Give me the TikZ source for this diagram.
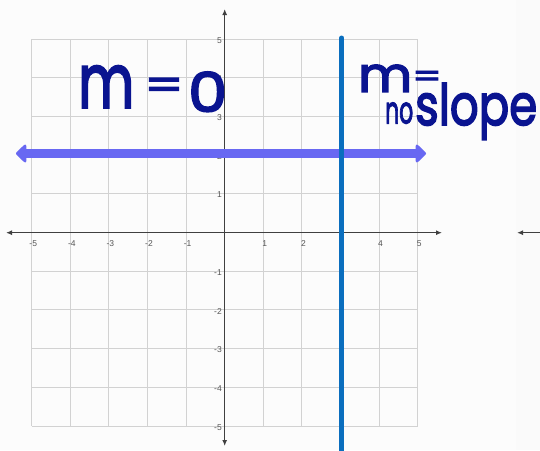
\documentclass[tikz,border=0pt]{standalone}
\usepackage{fontspec}
\usepackage{graphicx}
\setmainfont{Liberation Sans}
\newfontfamily\hand{Poppins}[FakeBold=3]
\usetikzlibrary{arrows.meta}
\definecolor{bgc}{HTML}{FCFCFC}
\definecolor{gridc}{HTML}{D2D2D2}
\definecolor{axisc}{HTML}{404040}
\definecolor{hlinec}{HTML}{6868F2}
\definecolor{vlinec}{HTML}{0A6EBE}
\definecolor{inkc}{HTML}{0A1490}
\definecolor{tickc}{HTML}{555555}
\tikzset{
  gridline/.style={draw=gridc, line width=1pt},
  axisline/.style={draw=axisc, line width=1.3pt},
  ticklab/.style={text=tickc, font=\fontsize{8.5}{8.5}\selectfont, inner sep=0pt},
  handtext/.style={text=inkc, inner sep=0pt, font=\hand},
}
\begin{document}
\begin{tikzpicture}[x=1pt,y=-1pt]
\useasboundingbox (0,0) rectangle (540,450);
\fill[bgc] (0,0) rectangle (540,450);
\fill[gray!4] (516,0) rectangle (540,450);
% grid
\foreach \k in {0,...,10} {
  \draw[gridline] ({31.7+\k*38.6},39) -- ({31.7+\k*38.6},426);
  \draw[gridline] (31.7,{39+\k*38.7}) -- (417.7,{39+\k*38.7});
}
% axes
\coordinate (ytop) at (224.7,9);
\coordinate (ybot) at (224.7,446);
\coordinate (xlft) at (6,232.7);
\coordinate (xrgt) at (442,232.7);
\draw[axisline,{Latex[length=6pt,width=5pt]}-{Latex[length=6pt,width=5pt]}] (xlft) -- (xrgt);
\draw[axisline,{Latex[length=6pt,width=5pt]}-{Latex[length=6pt,width=5pt]}] (ytop) -- (ybot);
% far-right partial axis
\coordinate (farA) at (541,232.7);
\coordinate (farB) at (517,232.7);
\draw[axisline,-{Latex[length=6pt,width=5pt]}] (farA) -- (farB);
% tick labels
\foreach \i in {-5,-4,-3,-2,-1,1,2,3,4,5} {
  \node[ticklab] (xt\i) at ({224.7+\i*38.6+1.5},243.5) {\i};
  \node[ticklab,anchor=east] (yt\i) at (222,{233.7-\i*38.7}) {\i};
}
% horizontal line y=2
\coordinate (hl) at (16,153.5);
\coordinate (hr) at (426,153.5);
\draw[hlinec, line width=9pt, {Triangle[round,length=11pt,width=21pt]}-{Triangle[round,length=11pt,width=21pt]}] (hl) -- (hr);
% vertical line x=3
\coordinate (vt) at (341.6,38);
\coordinate (vb) at (341.6,455);
\draw[vlinec, line width=5pt, line cap=round] (vt) -- (vb);
% handwriting: m = 0
\node[handtext,anchor=south west] (mA) at (78,108) {\resizebox{56pt}{42pt}{m}};
\node[handtext] (eqA) at (164,89) {\resizebox{40pt}{22pt}{=}};
\node[handtext,anchor=south west] (zeroA) at (188,112) {\resizebox{39pt}{40pt}{0}};
% handwriting: m = no slope
\node[handtext,anchor=south west] (mB) at (358,92) {\resizebox{54pt}{27pt}{m}};
\node[handtext] (eqB) at (427,79) {\resizebox{30pt}{16pt}{=}};
\node[handtext,anchor=south west] (noB) at (385,124) {\resizebox{28pt}{21pt}{no}};
\node[handtext,anchor=base west] (slopeB) at (415,125) {\resizebox{122pt}{42pt}{slope}};
\end{tikzpicture}
\end{document}
